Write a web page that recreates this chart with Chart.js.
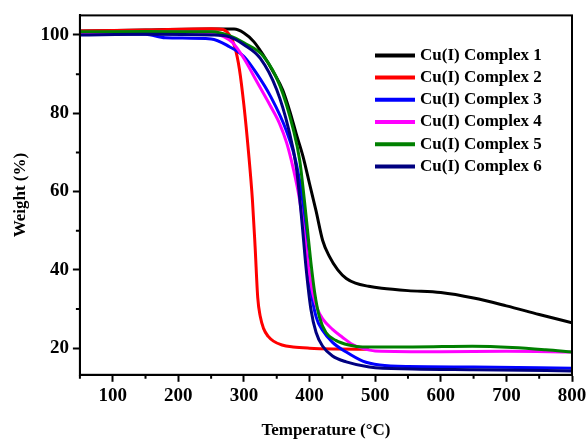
<!DOCTYPE html>
<html>
<head>
<meta charset="utf-8">
<script src="https://cdn.jsdelivr.net/npm/chart.js@4.4.0/dist/chart.umd.min.js"></script>
<style>
  html, body { margin: 0; padding: 0; background: #fff; }
</style>
</head>
<body>
<canvas id="tgaChart" width="588" height="441"></canvas>
<script>
// TGA curves (temperature in °C, weight in %)
const tempC1 = [50, 150, 250, 285, 300, 315, 329, 345, 359, 370, 380, 390, 400, 410, 420, 430, 443, 456, 470, 490, 510, 550, 600, 650, 700, 750, 800];
const weightC1 = [101, 101.3, 101.5, 101.5, 100.5, 98.3, 95, 90.5, 86, 80.5, 74.6, 69, 62, 55, 47.5, 43.5, 40, 37.8, 36.6, 35.8, 35.3, 34.7, 34.2, 32.8, 30.8, 28.6, 26.5];

const tempC2 = [50, 150, 250, 268, 278, 286, 293, 300, 307, 313, 317, 321, 325, 330, 337, 345, 358, 375, 400, 440, 490];
const weightC2 = [101, 101.3, 101.6, 101.4, 100, 97, 91.4, 82, 70, 57.7, 46, 33, 28, 25, 23, 21.8, 20.8, 20.3, 20, 19.8, 19.7];

const tempC3 = [50, 150, 180, 250, 278, 300, 320, 340, 365, 380, 390, 396, 402, 410, 420, 435, 456, 481, 507, 550, 650, 800];
const weightC3 = [100.3, 100.2, 99.3, 99, 97, 94.5, 90, 84.5, 75.4, 67, 57, 45, 35, 28, 24.5, 21.5, 19, 16.7, 15.7, 15.3, 15.2, 14.9];

const tempC4 = [50, 150, 250, 270, 283, 300, 320, 340, 354, 365, 375, 385, 392, 398, 405, 412, 420, 435, 450, 465, 480, 500, 600, 700, 800];
const weightC4 = [100.5, 100.8, 100.6, 99.5, 98, 94, 88, 82, 77.5, 72.5, 66, 57.7, 49, 41, 34, 30, 27.5, 24.8, 22.8, 21, 20, 19.3, 19.1, 19.2, 19];

const tempC5 = [50, 150, 250, 278, 300, 330, 355, 375, 385, 392, 397, 402, 408, 415, 425, 440, 460, 481, 557, 648, 709, 760, 800];
const weightC5 = [100.8, 100.9, 100.8, 99.8, 98, 94.5, 87, 76, 68, 58, 50, 42, 34, 28, 24, 22, 20.8, 20.3, 20.3, 20.5, 20.2, 19.6, 19];

const tempC6 = [50, 150, 250, 278, 300, 325, 350, 368, 380, 388, 395, 402, 410, 420, 435, 456, 491, 557, 650, 800];
const weightC6 = [100, 100.2, 100, 99.5, 97.5, 94, 86, 76, 66, 53, 40, 30, 24, 20.5, 18, 16.5, 15.2, 14.7, 14.5, 14.2];

const seriesNames = ['Cu(I) Complex 1', 'Cu(I) Complex 2', 'Cu(I) Complex 3', 'Cu(I) Complex 4', 'Cu(I) Complex 5', 'Cu(I) Complex 6'];
const seriesColors = ['#000000', '#ff0000', '#0000ff', '#ff00ff', '#008000', '#000080'];

const xTicks = [100, 200, 300, 400, 500, 600, 700, 800];
const xMinorTicks = [50, 150, 250, 350, 450, 550, 650, 750];
const yTicks = [20, 40, 60, 80, 100];
const yMinorTicks = [30, 50, 70, 90];

const serif = "'Liberation Serif', 'Times New Roman', serif";

const temps = [tempC1, tempC2, tempC3, tempC4, tempC5, tempC6];
const weights = [weightC1, weightC2, weightC3, weightC4, weightC5, weightC6];

const datasets = seriesNames.map((name, i) => ({
    label: name,
    data: temps[i].map((t, j) => ({ x: t, y: weights[i][j] })),
    borderColor: seriesColors[i],
    backgroundColor: seriesColors[i],
    borderWidth: 3,
    pointRadius: 0,
    fill: false,
    cubicInterpolationMode: 'monotone',
    order: seriesNames.length - i   // later complexes drawn on top
}));

// box round the plot plus the short minor ticks
const framePlugin = {
    id: 'frame',
    afterDraw(chart) {
        const { ctx, chartArea: a, scales } = chart;
        ctx.save();
        ctx.strokeStyle = '#000';
        ctx.lineWidth = 2;
        ctx.strokeRect(a.left, a.top, a.right - a.left, a.bottom - a.top);
        ctx.beginPath();
        xMinorTicks.forEach(v => {
            const px = scales.x.getPixelForValue(v);
            ctx.moveTo(px, a.bottom);
            ctx.lineTo(px, a.bottom + 4);
        });
        yMinorTicks.forEach(v => {
            const py = scales.y.getPixelForValue(v);
            ctx.moveTo(a.left, py);
            ctx.lineTo(a.left - 4, py);
        });
        ctx.stroke();
        ctx.restore();
    }
};

// legend inside the plot, top right
const legendPlugin = {
    id: 'insideLegend',
    afterDraw(chart) {
        const { ctx, chartArea: a } = chart;
        const x0 = a.right - 197;
        const y0 = a.top + 40;
        ctx.save();
        ctx.font = 'bold 17px ' + serif;
        ctx.textBaseline = 'middle';
        ctx.fillStyle = '#000';
        chart.data.datasets.forEach((ds, i) => {
            const y = y0 + i * 22.2;
            ctx.strokeStyle = ds.borderColor;
            ctx.lineWidth = 4;
            ctx.beginPath();
            ctx.moveTo(x0, y);
            ctx.lineTo(x0 + 40, y);
            ctx.stroke();
            ctx.fillText(ds.label, x0 + 45, y);
        });
        ctx.restore();
    }
};

const ctx = document.getElementById('tgaChart').getContext('2d');
const tgaChart = new Chart(ctx, {
    type: 'line',
    data: { datasets: datasets },
    options: {
        responsive: false,
        animation: false,
        layout: { padding: { left: 10, right: 16, top: 13, bottom: 0 } },
        plugins: {
            legend: { display: false },
            tooltip: { enabled: false }
        },
        scales: {
            x: {
                type: 'linear',
                min: 50,
                max: 800,
                afterBuildTicks: scale => { scale.ticks = xTicks.map(v => ({ value: v })); },
                afterFit: scale => { scale.paddingRight = 0; },
                ticks: {
                    color: '#000',
                    font: { family: serif, size: 19, weight: 'bold' },
                    padding: 3,
                    maxRotation: 0,
                    autoSkip: false
                },
                grid: { drawOnChartArea: false, tickLength: 7, tickWidth: 2, tickColor: '#000' },
                border: { color: '#000', width: 2 },
                title: {
                    display: true,
                    text: 'Temperature (°C)',
                    color: '#000',
                    font: { family: serif, size: 17, weight: 'bold' },
                    padding: { top: 10, bottom: 0 }
                }
            },
            y: {
                type: 'linear',
                min: 13.2,
                max: 105,
                afterBuildTicks: scale => { scale.ticks = yTicks.map(v => ({ value: v })); },
                ticks: {
                    color: '#000',
                    font: { family: serif, size: 19, weight: 'bold' },
                    padding: 4
                },
                grid: { drawOnChartArea: false, tickLength: 7, tickWidth: 2, tickColor: '#000' },
                border: { color: '#000', width: 2 },
                title: {
                    display: true,
                    text: 'Weight (%)',
                    color: '#000',
                    font: { family: serif, size: 17, weight: 'bold' },
                    padding: { top: 0, bottom: 6 }
                }
            }
        }
    },
    plugins: [framePlugin, legendPlugin]
});
</script>
</body>
</html>
